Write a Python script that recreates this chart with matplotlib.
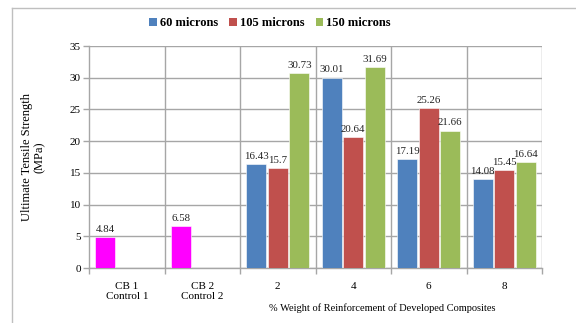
import numpy as np
import matplotlib
matplotlib.use('Agg')
import matplotlib.pyplot as plt
from matplotlib.patches import Patch

# Data
categories = ['CB 1\nControl 1', 'CB 2\nControl 2', '2', '4', '6', '8']
series_names = ['60 microns', '105 microns', '150 microns']
vals_60 = [4.84, 6.58, 16.43, 30.01, 17.19, 14.08]
vals_105 = [np.nan, np.nan, 15.7, 20.64, 25.26, 15.45]
vals_150 = [np.nan, np.nan, 30.73, 31.69, 21.66, 16.64]
control_flags = [True, True, False, False, False, False]

colors = ['#4F81BD', '#C0504D', '#9BBB59']
control_color = '#FF00FF'
grid_color = '#A6A6A6'

plt.rcParams['font.family'] = ['Liberation Serif', 'DejaVu Serif']

fig = plt.figure(figsize=(5.76, 3.23), dpi=100)
ax = fig.add_axes([89 / 576, 55 / 323, 453 / 576, 222 / 323])

x = np.arange(len(categories))
width = 0.26
offsets = [-0.285, 0.0, 0.285]
all_vals = [vals_60, vals_105, vals_150]

for i, (vals, off) in enumerate(zip(all_vals, offsets)):
    bar_colors = [control_color if (i == 0 and c) else colors[i] for c in control_flags]
    ax.bar(x + off, vals, width, color=bar_colors, edgecolor='white',
           linewidth=0.4, zorder=3)
    for xi, v in zip(x + off, vals):
        if np.isnan(v):
            continue
        ax.text(xi, v + 0.5, f'{v:g}', ha='center', va='bottom', fontsize=7.8,
                color='#222222', zorder=4)

ax.set_xlim(-0.5, len(categories) - 0.5)
ax.set_ylim(0, 35)
ax.set_yticks(np.arange(0, 36, 5))
ax.yaxis.grid(True, color=grid_color, linewidth=1.0, zorder=0)
for b in np.arange(0.5, len(categories) - 0.5, 1.0):
    ax.axvline(b, color=grid_color, linewidth=1.0, zorder=0)
ax.axvline(len(categories) - 0.5, color=grid_color, linewidth=1.0, zorder=0)

ax.set_xticks(x)
ax.set_xticklabels(categories, fontsize=8)
ax.set_xticks(np.arange(-0.5, len(categories), 1.0), minor=True)
ax.tick_params(axis='x', which='major', length=0, pad=10)
ax.tick_params(axis='x', which='minor', length=4, color=grid_color, width=1.0)
ax.tick_params(axis='y', length=4, color=grid_color, width=1.0, labelsize=8, pad=2)

for side in ['top', 'right']:
    ax.spines[side].set_visible(False)
for side in ['left', 'bottom']:
    ax.spines[side].set_color(grid_color)
    ax.spines[side].set_linewidth(1.0)

ax.set_ylabel('Ultimate Tensile Strength\n(MPa)', fontsize=9, linespacing=1.1)
ax.yaxis.set_label_coords(-0.095, 0.5)

fig.text(382 / 576, 1 - 308 / 323, '% Weight of Reinforcement of Developed Composites',
         ha='center', va='center', fontsize=7.5)

handles = [Patch(facecolor=c, edgecolor='none') for c in colors]
fig.legend(handles, series_names, loc='center', bbox_to_anchor=(270 / 576, 1 - 23 / 323),
           ncol=3, frameon=False, prop={'weight': 'bold', 'size': 9},
           handlelength=0.6, handleheight=0.6, handletextpad=0.25, columnspacing=0.9)

# outer chart-area border (top and left edges visible)
fig.add_artist(plt.Line2D([12 / 576, 1.0], [1 - 8 / 323, 1 - 8 / 323],
                          transform=fig.transFigure, color='#BFBFBF', linewidth=1.0))
fig.add_artist(plt.Line2D([12 / 576, 12 / 576], [0.0, 1 - 8 / 323],
                          transform=fig.transFigure, color='#BFBFBF', linewidth=1.0))

fig.savefig('out.png', dpi=100, facecolor='white')
